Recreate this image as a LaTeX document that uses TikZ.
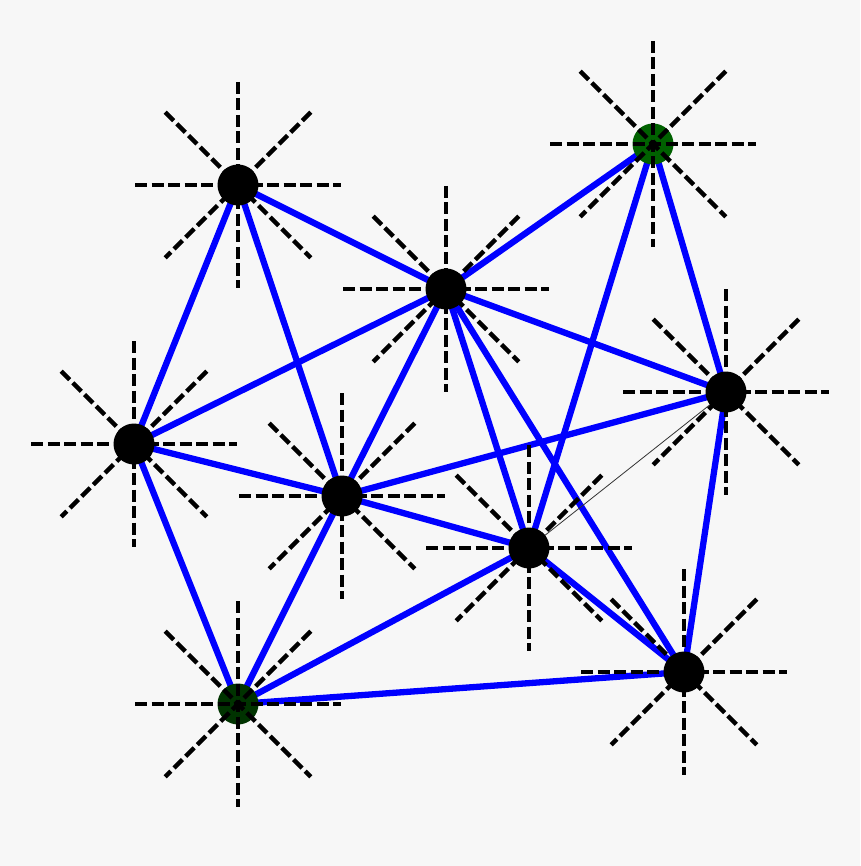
\documentclass[tikz,border=0pt]{standalone}
\usetikzlibrary{calc}
\begin{document}
\begin{tikzpicture}[x=1pt,y=-1pt,
  edge/.style={blue, line width=6.3pt},
  thin/.style={black!80, line width=0.8pt},
  ray/.style={black, line width=4.3pt, dash pattern=on 12pt off 4.5pt},
  dot/.style={circle, fill=black, minimum size=41pt, inner sep=0pt},
  gdot/.style={circle, fill=#1, minimum size=41pt, inner sep=0pt}]
\fill[white!97!black] (0,0) rectangle (860,866);
\useasboundingbox (0,0) rectangle (860,866);
\coordinate (A) at (238,185);
\coordinate (B) at (446,289);
\coordinate (C) at (653,144);
\coordinate (D) at (726,392);
\coordinate (E) at (134,444);
\coordinate (F) at (342,496);
\coordinate (G) at (529,548);
\coordinate (H) at (684,672);
\coordinate (I) at (238,704);
\foreach \a/\b in {A/B,A/E,A/F,B/C,B/E,B/F,B/G,B/H,B/D,C/G,C/D,D/F,D/H,E/F,E/I,F/G,F/I,G/I,G/H,I/H}
  \draw[edge] (\a) -- (\b);
\draw[thin] (G) -- (D);
\foreach \n in {A,B,D,E,F,G,H}
  \node[dot] (n\n) at (\n) {};
\node[gdot=green!38!black] (nC) at (C) {};
\node[gdot=green!20!black] (nI) at (I) {};
\foreach \n in {A,B,C,D,E,F,G,H,I}
  \foreach \ang in {180,225,270,315}
    \draw[ray] ($(\n)+(\ang:103)$) -- ($(\n)+(\ang+180:103)$);
\end{tikzpicture}
\end{document}
